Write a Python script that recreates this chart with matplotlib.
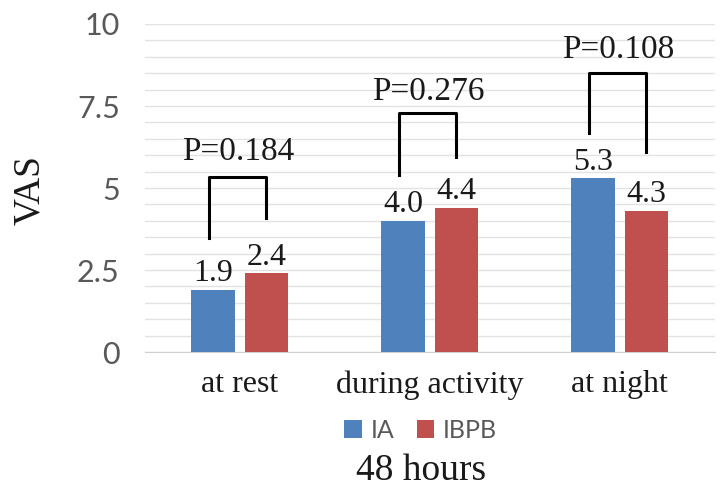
import matplotlib.pyplot as plt
import numpy as np

categories = ['at rest', 'during activity', 'at night']
ia_values = [1.9, 4.0, 5.3]
ibpb_values = [2.4, 4.4, 4.3]
p_labels = ['P=0.184', 'P=0.276', 'P=0.108']
# bracket: left leg bottom, top, right leg bottom, text y
bracket_left = [3.48, 5.4, 6.68]
bracket_top = [5.35, 7.29, 8.5]
bracket_right = [4.1, 5.95, 6.1]
p_text_y = [6.1, 7.93, 9.2]

serif = 'Liberation Serif'
sans = 'Lato'
grey = '#595959'
black = '#1a1a1a'

fig = plt.figure(figsize=(7.28, 5.0), dpi=100)
ax = fig.add_axes([0.199, 0.296, 0.783, 0.656])

x = np.arange(len(categories))
w = 0.23
off = 0.14
ax.bar(x - off, ia_values, w, color='#4F81BD', label='IA', zorder=3)
ax.bar(x + off, ibpb_values, w, color='#C0504D', label='IBPB', zorder=3)

for i in range(len(categories)):
    ax.text(x[i] - off, ia_values[i] + 0.05, f'{ia_values[i]:.1f}', ha='center', va='bottom',
            fontsize=23, family=serif, color=black)
    ax.text(x[i] + off, ibpb_values[i] + 0.05, f'{ibpb_values[i]:.1f}', ha='center', va='bottom',
            fontsize=23, family=serif, color=black)
    xl = x[i] - off - 0.02
    xr = x[i] + off
    ax.plot([xl, xl, xr, xr], [bracket_left[i], bracket_top[i], bracket_top[i], bracket_right[i]],
            color='black', lw=2.2, zorder=4)
    ax.text(x[i] - 0.01, p_text_y[i], p_labels[i], ha='center', va='center',
            fontsize=24, family=serif, color=black)

ax.set_ylim(0, 10)
ax.set_xlim(-0.5, 2.5)
ax.set_yticks([0, 2.5, 5, 7.5, 10])
ax.set_yticklabels(['0', '2.5', '5', '7.5', '10'])
ax.set_yticks(np.arange(0, 10.01, 0.5), minor=True)
ax.yaxis.grid(True, which='both', color='#e3e3e3', lw=1, zorder=0)
ax.set_xticks(x)
ax.set_xticklabels(categories, fontsize=23, family=serif, color=black)
for lab in ax.get_yticklabels():
    lab.set_family(sans)
    lab.set_fontsize(22)
    lab.set_color(grey)
ax.tick_params(axis='both', which='both', length=0)
ax.tick_params(axis='y', pad=18)
ax.tick_params(axis='x', pad=13)
for s in ['top', 'right', 'left']:
    ax.spines[s].set_visible(False)
ax.spines['bottom'].set_color('#d0d0d0')

ax.set_ylabel('VAS', fontsize=27, family=serif, color=black, va='center')
ax.yaxis.set_label_coords(-0.202, 0.494)

leg = fig.legend(loc='center', bbox_to_anchor=(0.578, 0.14), ncol=2, frameon=False,
                 handlelength=0.7, handleheight=0.7, handletextpad=0.35, columnspacing=0.9,
                 prop={'family': sans, 'size': 18})
for t in leg.get_texts():
    t.set_color(grey)

fig.text(0.578, 0.058, '48 hours', ha='center', va='center', fontsize=27, family=serif, color=black)

fig.savefig('out.png', dpi=100)
